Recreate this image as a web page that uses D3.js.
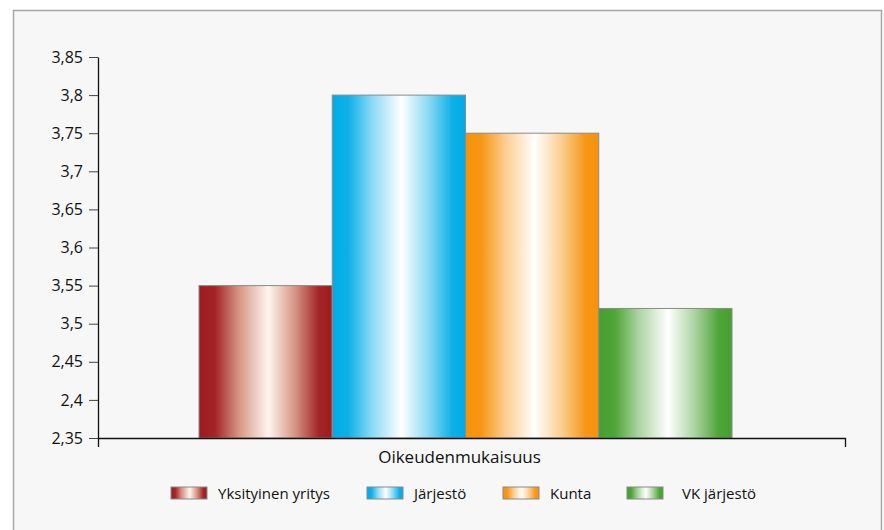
<!DOCTYPE html>
<html>
<head>
<meta charset="utf-8">
<script src="https://cdn.jsdelivr.net/npm/d3@7"></script>
<style>
  body { margin: 0; background: #fff; }
  text { font-family: "Open Sans", "Noto Sans", sans-serif; fill: #111; }
</style>
</head>
<body>
<svg id="chart"></svg>
<script>
// data
var categories = ["Oikeudenmukaisuus"];
var seriesNames = ["Yksityinen yritys", "Järjestö", "Kunta", "VK järjestö"];
var seriesValues = [3.55, 3.80, 3.75, 3.52];
var seriesColors = ["#9e1a1d", "#00ace6", "#f7920a", "#45a02e"];
var tickValues = [3.35, 3.40, 3.45, 3.50, 3.55, 3.60, 3.65, 3.70, 3.75, 3.80, 3.85];
var tickLabels = ["2,35", "2,4", "2,45", "3,5", "3,55", "3,6", "3,65", "3,7", "3,75", "3,8", "3,85"];

var W = 884, H = 530;
var margin = {top: 57, left: 98, right: 39, bottom: 92};
var width = W - margin.left - margin.right,
    height = H - margin.top - margin.bottom;

var root = d3.select("#chart").attr("width", W).attr("height", H);

// panel frame
root.append("rect")
    .attr("x", 13.5).attr("y", 10.5)
    .attr("width", 868).attr("height", 530)
    .attr("fill", "#f7f7f7")
    .attr("stroke", "#a6a6a6").attr("stroke-width", 1.5);

// gradients, one per series (edge colour -> warm white in the middle)
var defs = root.append("defs");
seriesColors.forEach(function(c, i) {
    var g = defs.append("linearGradient")
        .attr("id", "grad" + i)
        .attr("x1", "0%").attr("x2", "100%").attr("y1", "0%").attr("y2", "0%");
    var light = i === 0 ? d3.interpolateRgb(c, "#fff6f0") : d3.interpolateRgb(c, "#ffffff");
    var mid = i === 0 ? d3.interpolateRgb("#c0614a", "#fff6f0") : null;
    [[0, 0], [0.12, 0.05], [0.3, 0.55], [0.52, 1], [0.72, 0.55], [0.9, 0.05], [1, 0]].forEach(function(s) {
        var col = (mid && s[1] > 0.3 && s[1] < 1) ? mid(0.35) : light(s[1]);
        g.append("stop").attr("offset", (s[0] * 100) + "%").attr("stop-color", col);
    });
});

var svg = root.append("g")
    .attr("transform", "translate(" + margin.left + "," + margin.top + ")");

var x0 = d3.scaleBand()
    .domain(categories)
    .range([0, width]);

var x1 = d3.scaleBand()
    .domain(seriesNames)
    .range([101, 634]);

var y = d3.scaleLinear()
    .domain([3.35, 3.85])
    .range([height, 0]);

// y axis
var yAxis = svg.append("g")
    .call(d3.axisLeft(y).tickValues(tickValues).tickSize(9).tickSizeOuter(0)
        .tickFormat(function(d, i) { return tickLabels[i]; }));
yAxis.select(".domain").attr("stroke", "#111").attr("stroke-width", 1.3);
yAxis.selectAll(".tick line").attr("stroke", "#444");
yAxis.selectAll(".tick text").attr("font-size", 16).attr("x", -15).attr("fill", "#111");

// bars
svg.append("g")
    .selectAll("rect")
    .data(seriesValues)
    .enter().append("rect")
        .attr("x", function(d, i) { return x0(categories[0]) + x1(seriesNames[i]); })
        .attr("y", function(d) { return y(d); })
        .attr("width", x1.bandwidth())
        .attr("height", function(d) { return height - y(d); })
        .attr("fill", function(d, i) { return "url(#grad" + i + ")"; })
        .attr("stroke", "#8a8a8a").attr("stroke-width", 1);

// x axis
var xAxis = svg.append("g")
    .attr("transform", "translate(0," + height + ")")
    .call(d3.axisBottom(x0).tickSize(0).tickSizeOuter(9));
xAxis.select(".domain").attr("stroke", "#111").attr("stroke-width", 1.3);
xAxis.selectAll(".tick text")
    .attr("font-size", 17)
    .attr("dy", 0)
    .attr("y", 25)
    .attr("x", -12);

// legend
var legendX = [171, 367, 503, 627];
var legend = root.append("g").attr("transform", "translate(0,487)");
seriesNames.forEach(function(name, i) {
    var g = legend.append("g").attr("transform", "translate(" + legendX[i] + ",0)");
    g.append("rect")
        .attr("width", 36).attr("height", 12)
        .attr("fill", "url(#grad" + i + ")")
        .attr("stroke", "#8a8a8a").attr("stroke-width", 1);
    g.append("text")
        .attr("x", i === 3 ? 55 : 47).attr("y", 12)
        .attr("font-size", 15)
        .text(name);
});
</script>
</body>
</html>
